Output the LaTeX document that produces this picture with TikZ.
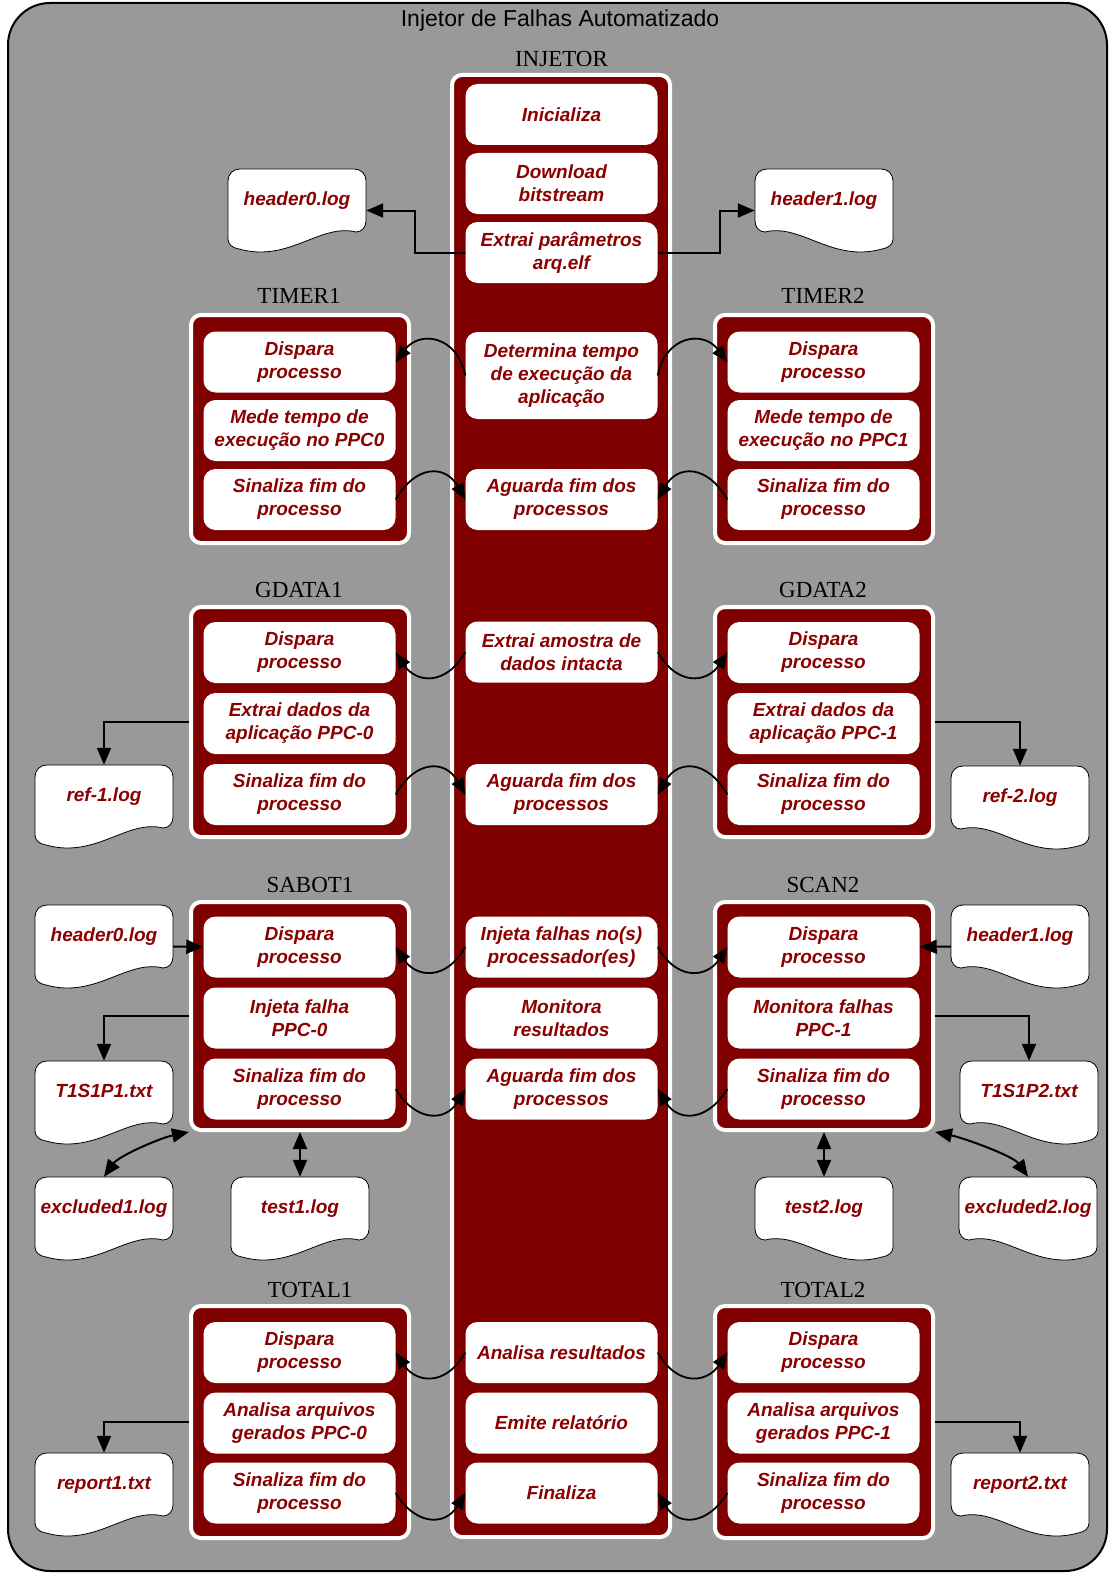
\documentclass[tikz,border=0pt]{standalone}
\usepackage{fontspec}
\setmainfont{Liberation Serif}
\newfontfamily\sansf{Liberation Sans}
\usetikzlibrary{arrows.meta,calc}
\definecolor{bggray}{HTML}{999999}
\definecolor{dred}{HTML}{800000}
\definecolor{dtext}{HTML}{8B0000}
\newcommand\docpath{(0,12) .. controls (0,5) and (5,0) .. (12,0) -- (126,0) .. controls (133,0) and (138,5) .. (138,12) -- (138,52) .. controls (138,58) and (134,63) .. (128,63) .. controls (92,54) and (61,94) .. (11,80) .. controls (4,79) and (0,75) .. (0,70) -- cycle}
\newcommand\docL[4]{%
  \begin{scope}[shift={(#2,#3)}]
    \path[docline] \docpath;
  \end{scope}
  \node[docn] (#1) at ({#2+69},{#3+41.5}) {#4};}
\newcommand\docR[4]{%
  \begin{scope}[shift={({#2+138},#3)},xscale=-1]
    \path[docline] \docpath;
  \end{scope}
  \node[docn] (#1) at ({#2+69},{#3+41.5}) {#4};}
\begin{document}
\begin{tikzpicture}[x=1pt,y=-1pt,
  outerframe/.style={draw=black,line width=2pt,fill=bggray,rounded corners=42pt},
  cont/.style={draw=white,fill=dred,line width=4pt,rounded corners=10pt,minimum width=218pt,inner sep=0pt},
  proc/.style={fill=white,rounded corners=12pt,text=dtext,font=\sansf\bfseries\itshape\fontsize{19}{23}\selectfont,align=center,minimum width=192pt,minimum height=61pt,inner sep=0pt},
  docn/.style={minimum width=138pt,minimum height=83pt,inner sep=0pt,text height=14pt,text depth=24pt,text=dtext,font=\sansf\bfseries\itshape\fontsize{19}{23}\selectfont},
  docline/.style={draw=black,line width=0.8pt,fill=white},
  lab/.style={font=\fontsize{23}{27}\selectfont,inner sep=0pt},
  conn/.style={line width=2pt,-{Triangle[length=17pt,width=14pt]}},
  curv/.style={line width=1.8pt,-{Triangle[length=16pt,width=13pt]}},
  dbl/.style={line width=2pt,{Triangle[length=17pt,width=14pt]}-{Triangle[length=17pt,width=14pt]}}
]
\useasboundingbox (0,0) rectangle (1109,1573);
\path[outerframe] (8,3) rectangle (1107,1571);
\node[font=\sansf\fontsize{23}{27}\selectfont,inner sep=0pt] (title) at (560,21) {Injetor de Falhas Automatizado};

% labels
\node[lab] (linj) at (561.5,59.5) {INJETOR};
\node[lab] (lT1) at (299,296) {TIMER1};
\node[lab] (lT2) at (823,296) {TIMER2};
\node[lab] (lG1) at (299,590) {GDATA1};
\node[lab] (lG2) at (823,590) {GDATA2};
\node[lab] (lS1) at (310,885) {SABOT1};
\node[lab] (lS2) at (823,885) {SCAN2};
\node[lab] (lO1) at (310,1290) {TOTAL1};
\node[lab] (lO2) at (823,1290) {TOTAL2};

% containers
\node[cont,minimum height=1462pt] (injc) at (561,806) {};
\node[cont,minimum height=228pt] (cT1) at (300,429) {};
\node[cont,minimum height=228pt] (cT2) at (824,429) {};
\node[cont,minimum height=230pt] (cG1) at (300,722) {};
\node[cont,minimum height=230pt] (cG2) at (824,722) {};
\node[cont,minimum height=228pt] (cS1) at (300,1016) {};
\node[cont,minimum height=228pt] (cS2) at (824,1016) {};
\node[cont,minimum height=232pt] (cO1) at (300,1422) {};
\node[cont,minimum height=232pt] (cO2) at (824,1422) {};

% injetor boxes
\node[proc] (ini) at (561.5,114.5) {Inicializa};
\node[proc] (dl) at (561.5,183.5) {Download\\bitstream};
\node[proc] (ext) at (561.5,252.5) {Extrai parâmetros\\arq.elf};
\node[proc,minimum height=87pt] (det) at (561.5,375.5) {Determina tempo\\de execução da\\aplicação};
\node[proc] (agT) at (561.5,499.5) {Aguarda fim dos\\processos};
\node[proc] (ams) at (561.5,652) {Extrai amostra de\\dados intacta};
\node[proc] (agG) at (561.5,794.5) {Aguarda fim dos\\processos};
\node[proc] (inj) at (561.5,947) {Injeta falhas no(s)\\processador(es)};
\node[proc] (mon) at (561.5,1018) {Monitora\\resultados};
\node[proc] (agS) at (561.5,1089) {Aguarda fim dos\\processos};
\node[proc] (ana) at (561.5,1352.5) {Analisa resultados};
\node[proc] (emi) at (561.5,1423) {Emite relatório};
\node[proc] (fin) at (561.5,1493) {Finaliza};

% TIMER
\node[proc] (T1a) at (299.5,362) {Dispara\\processo};
\node[proc] (T1b) at (299.5,430.5) {Mede tempo de\\execução no PPC0};
\node[proc] (T1c) at (299.5,499.5) {Sinaliza fim do\\processo};
\node[proc] (T2a) at (823.5,362) {Dispara\\processo};
\node[proc] (T2b) at (823.5,430.5) {Mede tempo de\\execução no PPC1};
\node[proc] (T2c) at (823.5,499.5) {Sinaliza fim do\\processo};
% GDATA
\node[proc] (G1a) at (299.5,652.5) {Dispara\\processo};
\node[proc] (G1b) at (299.5,723.5) {Extrai dados da\\aplicação PPC-0};
\node[proc] (G1c) at (299.5,794.5) {Sinaliza fim do\\processo};
\node[proc] (G2a) at (823.5,652.5) {Dispara\\processo};
\node[proc] (G2b) at (823.5,723.5) {Extrai dados da\\aplicação PPC-1};
\node[proc] (G2c) at (823.5,794.5) {Sinaliza fim do\\processo};
% SABOT / SCAN
\node[proc] (S1a) at (299.5,947) {Dispara\\processo};
\node[proc] (S1b) at (299.5,1018) {Injeta falha\\PPC-0};
\node[proc] (S1c) at (299.5,1089) {Sinaliza fim do\\processo};
\node[proc] (S2a) at (823.5,947) {Dispara\\processo};
\node[proc] (S2b) at (823.5,1018) {Monitora falhas\\PPC-1};
\node[proc] (S2c) at (823.5,1089) {Sinaliza fim do\\processo};
% TOTAL
\node[proc] (O1a) at (299.5,1352.5) {Dispara\\processo};
\node[proc] (O1b) at (299.5,1423) {Analisa arquivos\\gerados PPC-0};
\node[proc] (O1c) at (299.5,1493) {Sinaliza fim do\\processo};
\node[proc] (O2a) at (823.5,1352.5) {Dispara\\processo};
\node[proc] (O2b) at (823.5,1423) {Analisa arquivos\\gerados PPC-1};
\node[proc] (O2c) at (823.5,1493) {Sinaliza fim do\\processo};

% files
\docL{h0a}{228}{169}{header0.log}
\docR{h1a}{755}{169}{header1.log}
\docL{ref1}{35}{765}{ref-1.log}
\docR{ref2}{951}{766}{ref-2.log}
\docL{h0b}{35}{905}{header0.log}
\docR{h1b}{951}{905}{header1.log}
\docL{tp1}{35}{1061}{T1S1P1.txt}
\docR{tp2}{960}{1061}{T1S1P2.txt}
\docL{ex1}{35}{1177}{excluded1.log}
\docL{ts1}{231}{1177}{test1.log}
\docR{ts2}{755}{1177}{test2.log}
\docR{ex2}{959}{1177}{excluded2.log}
\docL{rp1}{35}{1453}{report1.txt}
\docR{rp2}{951}{1453}{report2.txt}

% straight connectors
\draw[conn] (ext.west) -- ++(-50,0) |- (h0a.east);
\draw[conn] (ext.east) -- ++(62,0) |- (h1a.west);
\draw[conn] (cG1.west) -| (ref1.north);
\draw[conn] (cG2.east) -| (ref2.north);
\draw[conn] (h0b.east) -- (S1a.west);
\draw[conn] (h1b.west) -- (S2a.east);
\draw[conn] (cS1.west) -| (tp1.north);
\draw[conn] (cS2.east) -| (tp2.north);
\draw[conn] (cO1.west) -| (rp1.north);
\draw[conn] (cO2.east) -| (rp2.north);
\draw[dbl] (ts1.north) -- (cS1.south);
\draw[dbl] (ts2.north) -- (cS2.south);
\draw[dbl] (ex1.north) .. controls +(15,-21) and +(-29,6) .. (cS1.south west);
\draw[dbl] (ex2.north) .. controls +(-15,-21) and +(29,6) .. (cS2.south east);

% curved connectors
\draw[curv] (det.west) .. controls +(-8,-40) and +(24,-32) .. (T1a.east);
\draw[curv] (det.east) .. controls +(8,-40) and +(-24,-32) .. (T2a.west);
\draw[curv] (T1c.east) .. controls +(20,-35) and +(-20,-35) .. (agT.west);
\draw[curv] (T2c.west) .. controls +(-20,-35) and +(20,-35) .. (agT.east);
\draw[curv] (ams.west) .. controls +(-20,35) and +(20,30) .. (G1a.east);
\draw[curv] (ams.east) .. controls +(20,35) and +(-20,30) .. (G2a.west);
\draw[curv] (G1c.east) .. controls +(20,-35) and +(-20,-35) .. (agG.west);
\draw[curv] (G2c.west) .. controls +(-20,-35) and +(20,-35) .. (agG.east);
\draw[curv] (inj.west) .. controls +(-20,35) and +(20,30) .. (S1a.east);
\draw[curv] (inj.east) .. controls +(20,35) and +(-20,30) .. (S2a.west);
\draw[curv] (S1c.east) .. controls +(20,33) and +(-20,33) .. (agS.west);
\draw[curv] (S2c.west) .. controls +(-20,33) and +(20,33) .. (agS.east);
\draw[curv] (ana.west) .. controls +(-20,35) and +(20,30) .. (O1a.east);
\draw[curv] (ana.east) .. controls +(20,35) and +(-20,30) .. (O2a.west);
\draw[curv] (O1c.east) .. controls +(20,33) and +(-20,33) .. (fin.west);
\draw[curv] (O2c.west) .. controls +(-20,33) and +(20,33) .. (fin.east);
\end{tikzpicture}
\end{document}
